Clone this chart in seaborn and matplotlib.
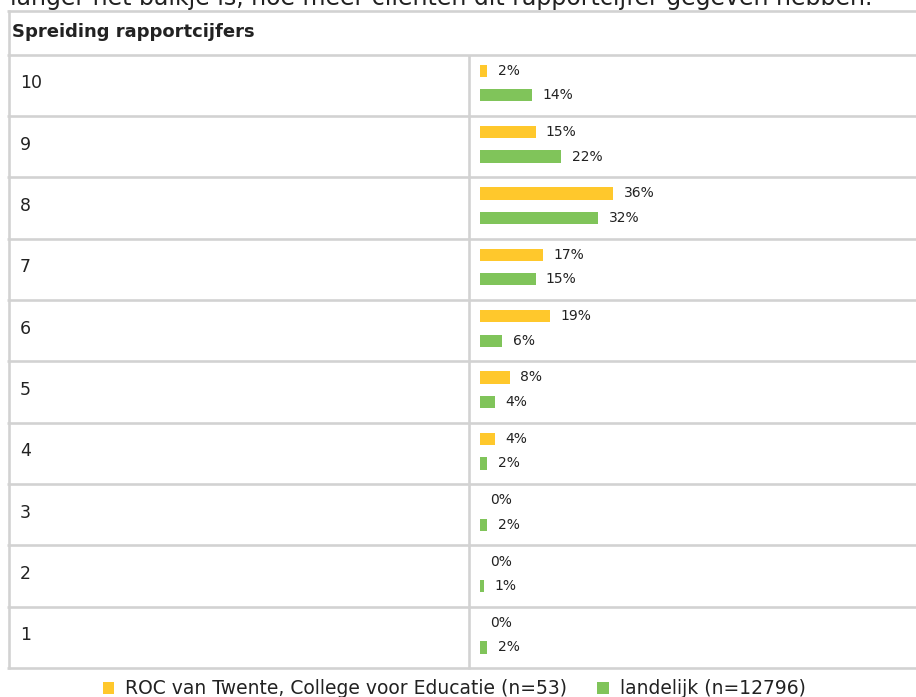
import pandas as pd
import seaborn as sns
import matplotlib as mpl
import matplotlib.pyplot as plt

sns.set_theme(style="white")
mpl.rcParams['font.family'] = ['DejaVu Sans']
mpl.rcParams['text.color'] = '#222222'

# data
cijfers = ['10', '9', '8', '7', '6', '5', '4', '3', '2', '1']
roc = [2, 15, 36, 17, 19, 8, 4, 0, 0, 0]
landelijk = [14, 22, 32, 15, 6, 4, 2, 2, 1, 2]
groepen = ['ROC van Twente, College voor Educatie (n=53)', 'landelijk (n=12796)']
kleuren = ['#ffc82c', '#80c45a']

titel = 'Spreiding rapportcijfers'
intro = 'langer het balkje is, hoe meer cliënten dit rapportcijfer gegeven hebben.'

df = pd.DataFrame({
    'cijfer': cijfers * 2,
    'pct': roc + landelijk,
    'groep': [groepen[0]] * len(cijfers) + [groepen[1]] * len(cijfers),
})

W, H = 916, 697
fig = plt.figure(figsize=(W / 100, H / 100), dpi=100)
fig.patch.set_facecolor('white')

# background axes in pixel coords for the table look
bg = fig.add_axes([0, 0, 1, 1])
bg.set_xlim(0, W)
bg.set_ylim(H, 0)
bg.axis('off')

top, head_bot, bottom = 10.5, 54.5, 668
row_h = (bottom - head_bot) / len(cijfers)
line_kw = dict(color='#d2d2d2', lw=1.9, solid_capstyle='butt')

bg.plot([7, W], [top, top], **line_kw)
for k in range(len(cijfers) + 1):
    y = head_bot + k * row_h
    bg.plot([7, W], [y, y], **line_kw)
bg.plot([8.5, 8.5], [top - 1, bottom + 1], **line_kw)
bg.plot([469, 469], [head_bot, bottom + 1], **line_kw)

# intro sentence is clipped at the top edge, like in the screenshot
bg.text(10, 5, intro, fontsize=17, va='baseline', ha='left')
bg.text(12, 37, titel, fontsize=13, fontweight='bold', va='baseline', ha='left')
for i, c in enumerate(cijfers):
    yc = head_bot + (i + 0.5) * row_h - 2
    bg.text(20, yc, c, fontsize=12.5, va='center', ha='left')

# bars
x0 = 480
px_per_pct = 3.7
ax = fig.add_axes([x0 / W, 1 - bottom / H, (W - x0) / W, (bottom - head_bot) / H])
sns.barplot(data=df, y='cijfer', x='pct', hue='groep', order=cijfers, hue_order=groepen,
            palette=kleuren, saturation=1, orient='h', width=0.8, gap=0.5,
            errorbar=None, linewidth=0, ax=ax)
ax.set_xlim(0, (W - x0) / px_per_pct)
ax.set_ylim(len(cijfers) - 0.5 + 0.0355, -0.5 + 0.0355)
ax.axis('off')
for cont in ax.containers:
    ax.bar_label(cont, fmt='%.0f%%', padding=7.5, fontsize=10, color='#222222')

handles, labels = ax.get_legend_handles_labels()
if ax.get_legend() is not None:
    ax.get_legend().remove()
fig.legend(handles, labels, loc='center', bbox_to_anchor=(0.496, 1 - 689 / H), ncol=2,
           frameon=False, fontsize=13.5, handlelength=0.62, handleheight=0.62,
           handletextpad=0.6, columnspacing=1.6, borderpad=0, borderaxespad=0)

fig.savefig('out.png', dpi=100)
